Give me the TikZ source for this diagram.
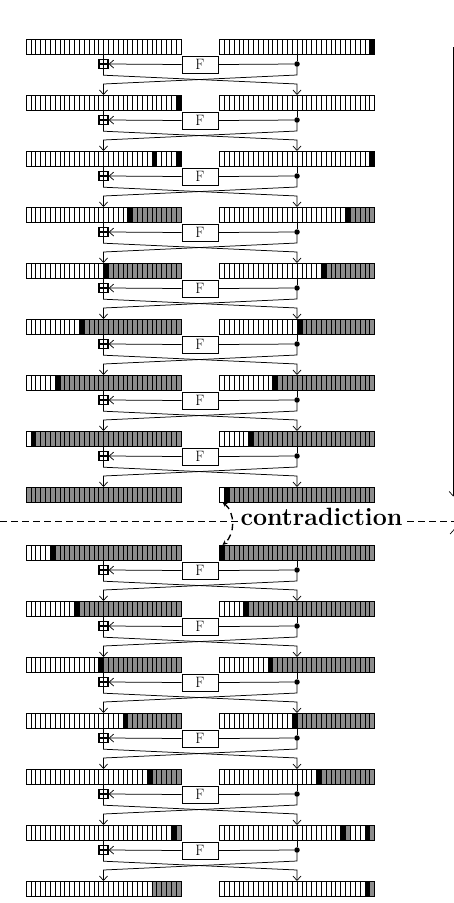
\documentclass[tikz,border=0pt]{standalone}
\usepackage{fontspec}
\usetikzlibrary{arrows.meta}
\definecolor{cgray}{gray}{0.55}
\newcount\cellidx
\tikzset{
  conn/.style={line width=0.75pt},
  arr/.style={conn,-{Straight Barb[length=4.5pt,width=8pt,line width=0.7pt]}},
  regbox/.style={rectangle, minimum width=155pt, minimum height=15pt, inner sep=0pt, outer sep=0pt, anchor=north west},
  regline/.style={line width=0.9pt},
  cellline/.style={line width=0.6pt},
  fbox/.style={draw, line width=0.75pt, fill=white, minimum width=36pt, minimum height=17pt, inner sep=0pt, font=\fontsize{15}{16}\selectfont},
  xorbox/.style={draw, line width=1.4pt, minimum size=9pt, inner sep=0pt},
  dotn/.style={circle, fill, minimum size=5.5pt, inner sep=0pt},
  cdash/.style={line width=1.35pt, dash pattern=on 6.5pt off 4.5pt},
}
\newcommand\reg[4]{%
  \node[regbox] (#1) at (#2,#3) {};
  \global\cellidx=0
  \foreach \col/\n in {#4}{%
    \foreach \k in {1,...,\n}{%
      \fill[\col] ({#2+\the\cellidx*4.84375},#3) rectangle ++(4.84375,15);
      \global\advance\cellidx by 1
    }%
  }%
  \foreach \k in {1,...,31}{\draw[cellline] ({#2+\k*4.84375},#3) -- ++(0,15);}
  \draw[regline] (#1.north west) rectangle (#1.south east);
}
\newcommand\fround[6]{%
  \node[fbox] (F#1) at (200,#2+25.5) {F};
  \node[xorbox] (X#1) at (103.5,#2+25) {};
  \node[dotn] (D#1) at (297,#2+25) {};
  \draw[line width=1.1pt] (X#1.west) -- (X#1.east);
  \draw[conn] (#3.south) -- (X#1.north);
  \draw[line width=1.1pt] (X#1.north) -- (X#1.south);
  \draw[conn] (#4.south) -- (D#1);
  \draw[conn] (D#1) -- (F#1.east);
  \draw[arr] (F#1.west) -- (X#1.east);
  \draw[arr] (X#1.south) -- ++(0,6) -- ([yshift=11pt]#6.north) -- (#6.north);
  \draw[arr] (D#1) -- ++(0,11) -- ([yshift=11pt]#5.north) -- (#5.north);
}
\begin{document}
\begin{tikzpicture}[x=1pt,y=-1pt]
\useasboundingbox (0,0) rectangle (454,903);
% top registers
\reg{L0}{26}{39}{white/32}
\reg{R0}{219.5}{39}{white/31,black/1}
\reg{L1}{26}{95}{white/31,black/1}
\reg{R1}{219.5}{95}{white/32}
\reg{L2}{26}{151}{white/26,black/1,white/4,black/1}
\reg{R2}{219.5}{151}{white/31,black/1}
\reg{L3}{26}{207}{white/21,black/1,cgray/10}
\reg{R3}{219.5}{207}{white/26,black/1,cgray/5}
\reg{L4}{26}{263}{white/16,black/1,cgray/15}
\reg{R4}{219.5}{263}{white/21,black/1,cgray/10}
\reg{L5}{26}{319}{white/11,black/1,cgray/20}
\reg{R5}{219.5}{319}{white/16,black/1,cgray/15}
\reg{L6}{26}{375}{white/6,black/1,cgray/25}
\reg{R6}{219.5}{375}{white/11,black/1,cgray/20}
\reg{L7}{26}{431}{white/1,black/1,cgray/30}
\reg{R7}{219.5}{431}{white/6,black/1,cgray/25}
\reg{L8}{26}{487}{cgray/32}
\reg{R8}{219.5}{487}{white/1,black/1,cgray/30}
% bottom registers
\reg{M0}{26}{545}{white/5,black/1,cgray/26}
\reg{N0}{219.5}{545}{black/1,cgray/31}
\reg{M1}{26}{601}{white/10,black/1,cgray/21}
\reg{N1}{219.5}{601}{white/5,black/1,cgray/26}
\reg{M2}{26}{657}{white/15,black/1,cgray/16}
\reg{N2}{219.5}{657}{white/10,black/1,cgray/21}
\reg{M3}{26}{713}{white/20,black/1,cgray/11}
\reg{N3}{219.5}{713}{white/15,black/1,cgray/16}
\reg{M4}{26}{769}{white/25,black/1,cgray/6}
\reg{N4}{219.5}{769}{white/20,black/1,cgray/11}
\reg{M5}{26}{825}{white/30,black/1,cgray/1}
\reg{N5}{219.5}{825}{white/25,black/1,cgray/1,white/3,black/1,cgray/1}
\reg{M6}{26}{881}{white/26,cgray/6}
\reg{N6}{219.5}{881}{white/30,black/1,cgray/1}
% rounds
\foreach \k [evaluate=\k as \y using 39+56*\k, evaluate=\k as \n using int(\k+1)] in {0,...,7}
  {\fround{t\k}{\y}{L\k}{R\k}{L\n}{R\n}}
\foreach \k [evaluate=\k as \y using 545+56*\k, evaluate=\k as \n using int(\k+1)] in {0,...,5}
  {\fround{b\k}{\y}{M\k}{N\k}{M\n}{N\n}}
% contradiction
\coordinate (dl) at (0,521.7);
\coordinate (dr) at (454,521.7);
\draw[cdash] (dl) -- (dr);
\node[fill=white, inner sep=1.5pt, anchor=base, font=\bfseries\fontsize{25}{28}\selectfont] (C) at (321.5,525.5) {contradiction};
\draw[cdash, {Stealth[length=5pt,width=4.5pt]}-{Stealth[length=5pt,width=4.5pt]}] ([xshift=3pt]R8.south west) to[bend left=50] ([xshift=3pt]N0.north west);
% right edge arrows
\coordinate (e1) at (453.2,47);
\coordinate (e2) at (453.2,496.5);
\coordinate (e3) at (454.1,910);
\coordinate (e4) at (454.1,529);
\draw[arr] (e1) -- (e2);
\draw[arr] (e3) -- (e4);
\end{tikzpicture}
\end{document}
